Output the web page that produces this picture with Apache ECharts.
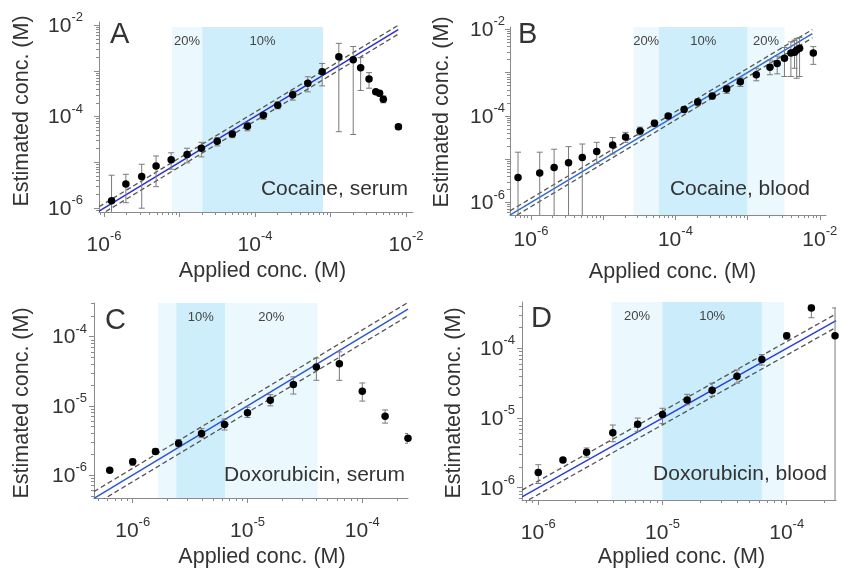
<!DOCTYPE html>
<html><head><meta charset="utf-8">
<script src="https://cdn.jsdelivr.net/npm/echarts@6/dist/echarts.min.js"></script>
<style>html,body{margin:0;padding:0;background:#fff}#c{width:841px;height:570px}</style>
</head><body><div id="c"></div>
<script>
// ---------------- DATA (concentrations in M) ----------------
// Panel A: Cocaine, serum
const aApplied   = [1.26e-6, 1.95e-6, 3.16e-6, 4.90e-6, 7.76e-6, 1.26e-5, 1.95e-5, 3.16e-5, 5.01e-5, 7.94e-5, 1.29e-4, 2.00e-4, 3.16e-4, 5.01e-4, 7.76e-4, 1.29e-3, 2.00e-3, 2.51e-3, 3.24e-3, 3.98e-3, 4.47e-3, 5.01e-3, 7.94e-3];
const aEstimated = [1.45e-6, 3.39e-6, 4.90e-6, 8.32e-6, 1.15e-5, 1.48e-5, 2.04e-5, 2.88e-5, 4.17e-5, 6.17e-5, 1.07e-4, 1.78e-4, 3.02e-4, 5.37e-4, 9.55e-4, 2.04e-3, 1.74e-3, 1.17e-3, 6.61e-4, 3.47e-4, 3.24e-4, 2.40e-4, 6.03e-5];
const aLow       = [7.0e-7, 1.32e-6, 1.0e-6, 2.95e-6, 7.08e-6, 9.77e-6, 1.32e-5, 2.29e-5, 3.47e-5, 4.90e-5, 8.71e-5, 1.48e-4, 2.29e-4, 3.47e-4, 4.68e-4, 4.68e-5, 4.07e-5, 3.72e-4, 4.17e-4, 3.09e-4, 2.82e-4, 2.00e-4, 5.25e-5];
const aHigh      = [5.25e-6, 5.50e-6, 9.12e-6, 1.38e-5, 1.62e-5, 2.04e-5, 2.75e-5, 3.47e-5, 4.90e-5, 7.41e-5, 1.23e-4, 2.09e-4, 3.63e-4, 7.41e-4, 1.45e-3, 3.98e-3, 3.39e-3, 1.95e-3, 9.12e-4, 3.80e-4, 3.63e-4, 2.82e-4, 6.76e-5];
const aBandEdges = [7.94e-6, 2.0e-5, 7.94e-4];
const aBandPct   = [20, 10];
const aBandText  = ['20%', '10%'];
const aShadeTop  = 9.1e-3;
const aSpan      = [8.6e-7, 7.9e-3];

// Panel B: Cocaine, blood
const bApplied   = [6.61e-7, 1.32e-6, 2.09e-6, 3.31e-6, 5.13e-6, 8.13e-6, 1.35e-5, 2.04e-5, 3.24e-5, 5.13e-5, 7.94e-5, 1.32e-4, 2.04e-4, 3.24e-4, 5.13e-4, 7.94e-4, 1.32e-3, 2.04e-3, 2.57e-3, 3.24e-3, 3.98e-3, 4.47e-3, 4.79e-3, 5.25e-3, 8.13e-3];
const bEstimated = [3.80e-6, 4.79e-6, 6.46e-6, 8.32e-6, 1.10e-5, 1.51e-5, 2.14e-5, 3.24e-5, 4.47e-5, 6.76e-5, 1.00e-4, 1.41e-4, 2.09e-4, 2.88e-4, 4.17e-4, 6.17e-4, 8.91e-4, 1.32e-3, 1.62e-3, 2.14e-3, 2.82e-3, 2.95e-3, 3.31e-3, 3.63e-3, 2.82e-3];
const bLow       = [4e-7, 4e-7, 4e-7, 4e-7, 4e-7, 7.94e-6, 1.32e-5, 2.45e-5, 3.63e-5, 5.62e-5, 8.71e-5, 1.23e-4, 1.74e-4, 2.45e-4, 3.31e-4, 4.79e-4, 6.46e-4, 8.91e-4, 9.33e-4, 8.13e-4, 8.13e-4, 1.26e-3, 7.41e-4, 8.13e-4, 1.55e-3];
const bHigh      = [1.45e-5, 1.45e-5, 1.70e-5, 1.95e-5, 2.24e-5, 2.45e-5, 3.16e-5, 4.17e-5, 5.50e-5, 7.94e-5, 1.12e-4, 1.62e-4, 2.45e-4, 3.31e-4, 5.01e-4, 7.59e-4, 1.26e-3, 1.95e-3, 2.40e-3, 3.80e-3, 5.13e-3, 5.62e-3, 6.17e-3, 6.46e-3, 3.98e-3];
const bBandEdges = [2.63e-5, 5.89e-5, 1.0e-3, 3.24e-3];
const bBandPct   = [20, 10, 20];
const bBandText  = ['20%', '10%', '20%'];
const bShadeTop  = 1.13e-2;
const bSpan      = [5.1e-7, 7.9e-3];

// Panel C: Doxorubicin, serum
const cApplied   = [6.31e-7, 1.0e-6, 1.58e-6, 2.51e-6, 3.98e-6, 6.31e-6, 1.0e-5, 1.58e-5, 2.51e-5, 3.98e-5, 6.31e-5, 1.0e-4, 1.58e-4, 2.50e-4];
const cEstimated = [1.17e-6, 1.55e-6, 2.19e-6, 2.88e-6, 3.98e-6, 5.37e-6, 7.94e-6, 1.20e-5, 2.04e-5, 3.63e-5, 4.07e-5, 1.62e-5, 7.08e-6, 3.39e-6];
const cLow       = [1.13e-6, 1.38e-6, 2.00e-6, 2.57e-6, 3.47e-6, 4.47e-6, 6.76e-6, 1.00e-5, 1.48e-5, 2.34e-5, 2.34e-5, 1.17e-5, 5.62e-6, 2.88e-6];
const cHigh      = [1.21e-6, 1.70e-6, 2.40e-6, 3.24e-6, 4.68e-6, 6.46e-6, 9.55e-6, 1.45e-5, 2.63e-5, 4.90e-5, 6.03e-5, 2.14e-5, 8.71e-6, 3.98e-6];
const cBandEdges = [1.66e-6, 2.40e-6, 6.37e-6, 4.07e-5];
const cBandPct   = [20, 10, 20];
const cBandText  = ['', '10%', '20%'];
const cShadeTop  = 3.07e-4;
const cSpan      = [4.6e-7, 2.5e-4];

// Panel D: Doxorubicin, blood
const dApplied   = [1.0e-6, 1.58e-6, 2.45e-6, 3.98e-6, 6.31e-6, 1.0e-5, 1.58e-5, 2.51e-5, 3.98e-5, 6.31e-5, 1.0e-4, 1.58e-4, 2.45e-4];
const dEstimated = [1.66e-6, 2.51e-6, 3.24e-6, 6.17e-6, 8.13e-6, 1.12e-5, 1.82e-5, 2.51e-5, 3.98e-5, 6.92e-5, 1.51e-4, 3.80e-4, 1.51e-4];
const dLow       = [1.15e-6, 2.29e-6, 2.75e-6, 4.57e-6, 6.46e-6, 8.32e-6, 1.55e-5, 2.04e-5, 3.16e-5, 5.75e-5, 1.35e-4, 2.75e-4, 3e-7];
const dHigh      = [2.14e-6, 2.69e-6, 3.72e-6, 7.94e-6, 1.0e-5, 1.38e-5, 2.19e-5, 3.16e-5, 4.90e-5, 8.13e-5, 1.66e-4, 4.17e-4, 3.80e-4];
const dBandEdges = [3.89e-6, 1.0e-5, 6.31e-5, 9.55e-5];
const dBandPct   = [20, 10, 20];
const dBandText  = ['20%', '10%', ''];
const dShadeTop  = 4.62e-4;
const dSpan      = [7.4e-7, 2.5e-4];

// dashed tolerance lines (relative to identity)
const tolerance = [0.8, 1.25];
// tick-label exponents
const labelsWide   = [-6, -4, -2];
const labelsNarrow = [-6, -5, -4];
const titles = ['Cocaine, serum', 'Cocaine, blood', 'Doxorubicin, serum', 'Doxorubicin, blood'];
const letters = ['A', 'B', 'C', 'D'];

// ---------------- STYLE / LAYOUT ----------------
const L = Math.log10;
const FONT = '"Liberation Sans", Arial, Helvetica, sans-serif';
const TXT = '#333';
const AX = '#8a8a8a';
const ERR = '#7a7a7a';
const DARK = '#cfeefb';
const LIGHT = '#ebf8fd';
const DARK_OVER = 'rgba(170,225,248,0.62)';   // translucent dark band drawn above the line (panel D)

const panels = [
  {applied:aApplied, est:aEstimated, lo:aLow, hi:aHigh, edges:aBandEdges, pct:aBandPct, btxt:aBandText, top:aShadeTop, span:aSpan, labels:labelsWide,
   grid:{left:99, top:22, width:314, height:190}, x:[-6.066,-1.907], y:[-6.083,-1.934], blue:'#2b2fd9', darkOverLine:false,
   yMargin:16, xMargin:18, yNameGap:66, yNamePad:[0,0,0,12], xNameGap:48, xNamePad:[0,0,0,13],
   letterXY:[110,35], titleXY:[408,189]},
  {applied:bApplied, est:bEstimated, lo:bLow, hi:bHigh, edges:bBandEdges, pct:bBandPct, btxt:bBandText, top:bShadeTop, span:bSpan, labels:labelsWide,
   grid:{left:510, top:27, width:316, height:188}, x:[-6.291,-1.914], y:[-6.289,-1.947], blue:'#2f6dd6', darkOverLine:false,
   yMargin:5, xMargin:10, yNameGap:57, yNamePad:[0,0,0,18], xNameGap:46, xNamePad:[0,0,0,9],
   letterXY:[518,35], titleXY:[810,189]},
  {applied:cApplied, est:cEstimated, lo:cLow, hi:cHigh, edges:cBandEdges, pct:cBandPct, btxt:cBandText, top:cShadeTop, span:cSpan, labels:labelsNarrow,
   grid:{left:94, top:303, width:314, height:195}, x:[-6.337,-3.602], y:[-6.333,-3.513], blue:'#2c56d8', darkOverLine:false,
   yMargin:7, xMargin:18, yNameGap:61, yNamePad:[0,5,0,0], xNameGap:48, xNamePad:[0,0,0,22],
   letterXY:[105,321], titleXY:[405,475]},
  {applied:dApplied, est:dEstimated, lo:dLow, hi:dHigh, edges:dBandEdges, pct:dBandPct, btxt:dBandText, top:dShadeTop, span:dSpan, labels:labelsNarrow,
   grid:{left:522, top:302, width:314, height:198}, x:[-6.131,-3.603], y:[-6.176,-3.335], blue:'#2b3ed8', darkOverLine:true,
   yMargin:7, xMargin:18, yNameGap:57, yNamePad:[0,4,0,0], xNameGap:46, xNamePad:[0,0,0,5],
   letterXY:[531,319], titleXY:[827,474]}
];

function majors(ext){ const r=[]; for(let n=Math.ceil(ext[0]); n<=Math.floor(ext[1]); n++) r.push(n); return r; }
function minors(ext){ const r=[]; for(let n=Math.floor(ext[0]); n<Math.ceil(ext[1]); n++){ for(let k=2;k<=9;k++){ const v=n+L(k); if(v>ext[0]&&v<ext[1]) r.push(v);} } return r; }

const rich = {
  b:{fontFamily:FONT, fontSize:21, color:TXT, lineHeight:30},
  s:{fontFamily:FONT, fontSize:13, color:TXT, lineHeight:12, verticalAlign:'top'}
};
function fmt(v){ return '{b|10}{s|' + Math.round(v) + '}'; }

function mainAxis(gi, ext, labels, pos, margin, name, gap, pad){
  return {
    type:'value', gridIndex:gi, position:pos, min:ext[0], max:ext[1], scale:true,
    axisLine:{show:true, onZero:false, lineStyle:{color:AX, width:1}},
    axisTick:{show:true, customValues:majors(ext), length:5, lineStyle:{color:AX, width:1}},
    minorTick:{show:false}, splitLine:{show:false},
    axisLabel:{show:true, customValues:labels, margin:margin, formatter:fmt, rich:rich, hideOverlap:false,
               padding: pos==='left' ? [2,0,0,0] : 0},
    name:name, nameLocation:'middle', nameGap:gap,
    nameTextStyle:{fontFamily:FONT, fontSize:21.5, color:TXT, padding:pad}
  };
}
function minorAxis(gi, ext, pos){
  return {
    type:'value', gridIndex:gi, position:pos, min:ext[0], max:ext[1], scale:true,
    axisLine:{show:false, onZero:false},
    axisTick:{show:true, customValues:minors(ext), length:3, lineStyle:{color:AX, width:1}},
    axisLabel:{show:false}, splitLine:{show:false}, minorTick:{show:false}
  };
}

const option = {animation:false, backgroundColor:'#fff', grid:[], xAxis:[], yAxis:[], series:[], graphic:[]};
const bandLabel = {show:true, position:'insideTop', distance:8, color:'#444', fontSize:13, fontFamily:FONT};

panels.forEach((p, gi) => {
  option.grid.push(Object.assign({}, p.grid));
  const xi = option.xAxis.length, yi = option.yAxis.length;
  option.xAxis.push(mainAxis(gi, p.x, p.labels, 'bottom', p.xMargin, 'Applied conc. (M)', p.xNameGap, p.xNamePad));
  option.xAxis.push(minorAxis(gi, p.x, 'bottom'));
  option.yAxis.push(mainAxis(gi, p.y, p.labels, 'left', p.yMargin, 'Estimated conc. (M)', p.yNameGap, p.yNamePad));
  option.yAxis.push(minorAxis(gi, p.y, 'left'));

  const topLog = Math.min(L(p.top), p.y[1]);
  // shaded precision bands (under the lines, or the 10% band above the identity line for panel D)
  const under = [], over = [];
  for (let k = 0; k < p.pct.length; k++) {
    const isDark = p.pct[k] === 10;
    const target = (isDark && p.darkOverLine) ? over : under;
    target.push([
      {name:p.btxt[k], xAxis:L(p.edges[k]), yAxis:topLog,
       itemStyle:{color: isDark ? (p.darkOverLine ? DARK_OVER : DARK) : LIGHT}},
      {xAxis:L(p.edges[k+1]), yAxis:p.y[0]}
    ]);
  }
  option.series.push({
    type:'line', xAxisIndex:xi, yAxisIndex:yi, data:[], silent:true, z:1, symbol:'none',
    markArea:{silent:true, data:under, label:bandLabel}
  });
  // identity line
  option.series.push({
    type:'line', xAxisIndex:xi, yAxisIndex:yi, z:2, symbol:'none', silent:true, clip:true,
    data: p.span.map(v => [L(v), L(v)]),
    lineStyle:{color:p.blue, width:1.5}
  });
  if (over.length) {
    option.series.push({
      type:'line', xAxisIndex:xi, yAxisIndex:yi, data:[], silent:true, z:3, symbol:'none',
      markArea:{silent:true, data:over, label:bandLabel}
    });
  }
  // tolerance dashed lines
  tolerance.forEach(f => {
    option.series.push({
      type:'line', xAxisIndex:xi, yAxisIndex:yi, z:4, symbol:'none', silent:true, clip:true,
      data: p.span.map(v => [L(v), L(v*f)]),
      lineStyle:{color:'#555', width:1.3, type:[5,3]}
    });
  });
  // error bars
  option.series.push({
    type:'custom', xAxisIndex:xi, yAxisIndex:yi, z:5, silent:true, clip:true,
    data: p.applied.map((a,k) => [L(a), L(p.lo[k]), L(p.hi[k])]),
    encode:{x:0, y:[1,2]},
    renderItem:(params, api) => {
      const x = api.value(0);
      const lo = api.coord([x, api.value(1)]);
      const hi = api.coord([x, api.value(2)]);
      const w = 3, st = {stroke:ERR, lineWidth:1};
      return {type:'group', children:[
        {type:'line', shape:{x1:lo[0], y1:lo[1], x2:hi[0], y2:hi[1]}, style:st},
        {type:'line', shape:{x1:lo[0]-w, y1:lo[1], x2:lo[0]+w, y2:lo[1]}, style:st},
        {type:'line', shape:{x1:hi[0]-w, y1:hi[1], x2:hi[0]+w, y2:hi[1]}, style:st}
      ]};
    }
  });
  // points
  option.series.push({
    type:'scatter', xAxisIndex:xi, yAxisIndex:yi, z:6, silent:true, clip:false,
    symbol:'circle', symbolSize:7.5, itemStyle:{color:'#000', opacity:1},
    data: p.applied.map((a,k) => [L(a), L(p.est[k])])
  });
  // panel letter and sample label
  option.graphic.push({type:'text', x:p.letterXY[0], y:p.letterXY[1], silent:true, z:100,
    style:{text:letters[gi], fill:TXT, font:'29px ' + FONT, align:'left', verticalAlign:'middle', textAlign:'left', textVerticalAlign:'middle'}});
  option.graphic.push({type:'text', x:p.titleXY[0], y:p.titleXY[1], silent:true, z:100,
    style:{text:titles[gi], fill:TXT, font:'21px ' + FONT, align:'right', verticalAlign:'middle', textAlign:'right', textVerticalAlign:'middle'}});
});

const chart = echarts.init(document.getElementById('c'), null, {renderer:'canvas', width:841, height:570});
chart.setOption(option);
</script></body></html>
